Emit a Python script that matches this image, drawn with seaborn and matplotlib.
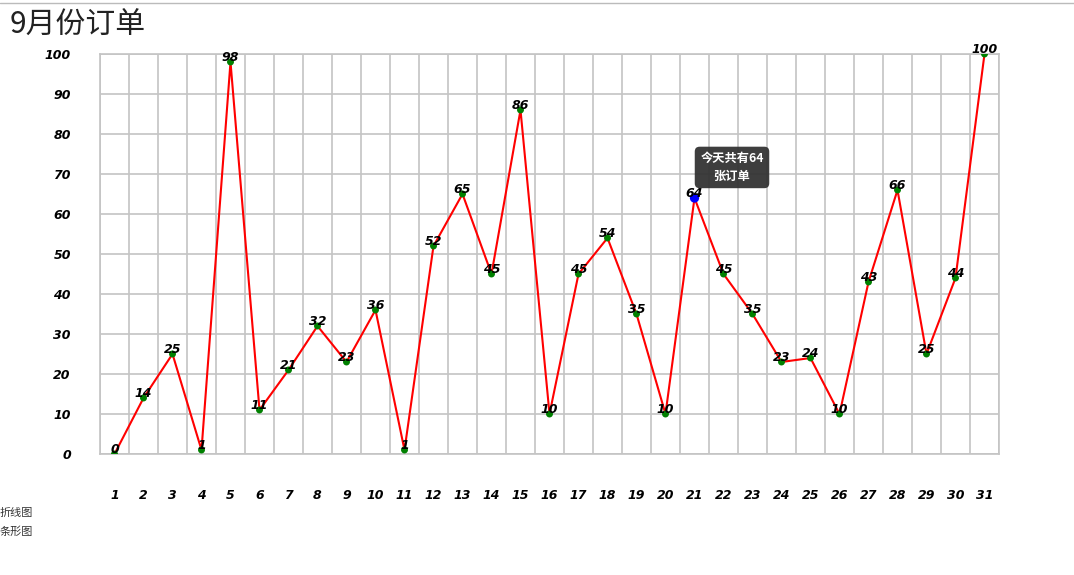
import matplotlib
matplotlib.use("Agg")
import matplotlib.pyplot as plt
import seaborn as sns
import pandas as pd
import numpy as np
from matplotlib.ticker import MultipleLocator, FixedLocator

sns.set_style("white")
plt.rcParams['font.family'] = ['Noto Sans CJK SC', 'DejaVu Sans']

days = [str(d) for d in range(1, 32)]
orders = [0, 14, 25, 1, 98, 11, 21, 32, 23, 36, 1, 52, 65, 45, 86, 10,
          45, 54, 35, 10, 64, 45, 35, 23, 24, 10, 43, 66, 25, 44, 100]
highlight_day = "21"
title = "9月份订单"
tooltip_text = "今天共有64\n张订单"
side_labels = ["折线图", "条形图"]

df = pd.DataFrame({"day": days, "orders": orders})
df["pos"] = np.arange(len(df))

fig = plt.figure(figsize=(10.74, 5.75), dpi=100)
ax = fig.add_axes([100/1074, 1-454/575, 899/1074, 400/575])

grid_c = "#c4c4c4"
sns.lineplot(data=df, x="pos", y="orders", ax=ax, color="red", lw=1.5, zorder=3)
colors = ["blue" if d == highlight_day else "green" for d in df["day"]]
sizes = [45 if d == highlight_day else 25 for d in df["day"]]
sns.scatterplot(data=df, x="pos", y="orders", ax=ax, c=colors, s=sizes,
                edgecolor="none", zorder=4, legend=False)

ax.set_xlim(-0.5, len(df) - 0.5)
ax.set_ylim(0, 100)
ax.xaxis.set_major_locator(FixedLocator(df["pos"].tolist()))
ax.set_xticklabels(days)
ax.xaxis.set_minor_locator(FixedLocator(np.arange(-0.5, len(df), 1.0)))
ax.yaxis.set_major_locator(MultipleLocator(10))
ax.grid(which="minor", axis="x", color=grid_c, lw=1.2)
ax.grid(which="major", axis="y", color=grid_c, lw=1.2)
ax.grid(which="major", axis="x", visible=False)
for s in ax.spines.values():
    s.set_color(grid_c)
    s.set_linewidth(1.2)
ax.tick_params(axis="both", which="both", length=0)
ax.tick_params(axis="x", pad=25)
ax.tick_params(axis="y", pad=21)
for lab in ax.get_xticklabels() + ax.get_yticklabels():
    lab.set_fontstyle("italic")
    lab.set_fontweight("bold")
    lab.set_fontsize(9)
    lab.set_family("DejaVu Sans")
    lab.set_color("black")
ax.set_xlabel("")
ax.set_ylabel("")

for p, v in zip(df["pos"], df["orders"]):
    ax.annotate(str(v), (p, v), xytext=(0, 3), textcoords="offset points",
                ha="center", va="center", fontsize=9, fontweight="bold",
                fontstyle="italic", family="DejaVu Sans", color="black",
                zorder=5, annotation_clip=False)

hi = df[df["day"] == highlight_day].iloc[0]
ax.annotate(tooltip_text, (hi["pos"], hi["orders"]), xytext=(27, 22),
            textcoords="offset points", ha="center", va="center",
            fontsize=8.8, color="white", fontweight="bold", linespacing=1.45,
            bbox=dict(boxstyle="round,pad=0.45,rounding_size=0.4",
                      fc="#333333", ec="none", alpha=0.95), zorder=6)

fig.text(10/1074, 1-25/575, title, fontsize=21.5, va="center", ha="left",
         color="#222222")
fig.text(0, 1-513/575, side_labels[0], fontsize=8, va="center", ha="left", color="#333333")
fig.text(0, 1-532/575, side_labels[1], fontsize=8, va="center", ha="left", color="#333333")
fig.add_artist(plt.Line2D([0, 1], [1-3/575, 1-3/575], color="#bbbbbb", lw=1))

fig.savefig("out.png", dpi=100)
